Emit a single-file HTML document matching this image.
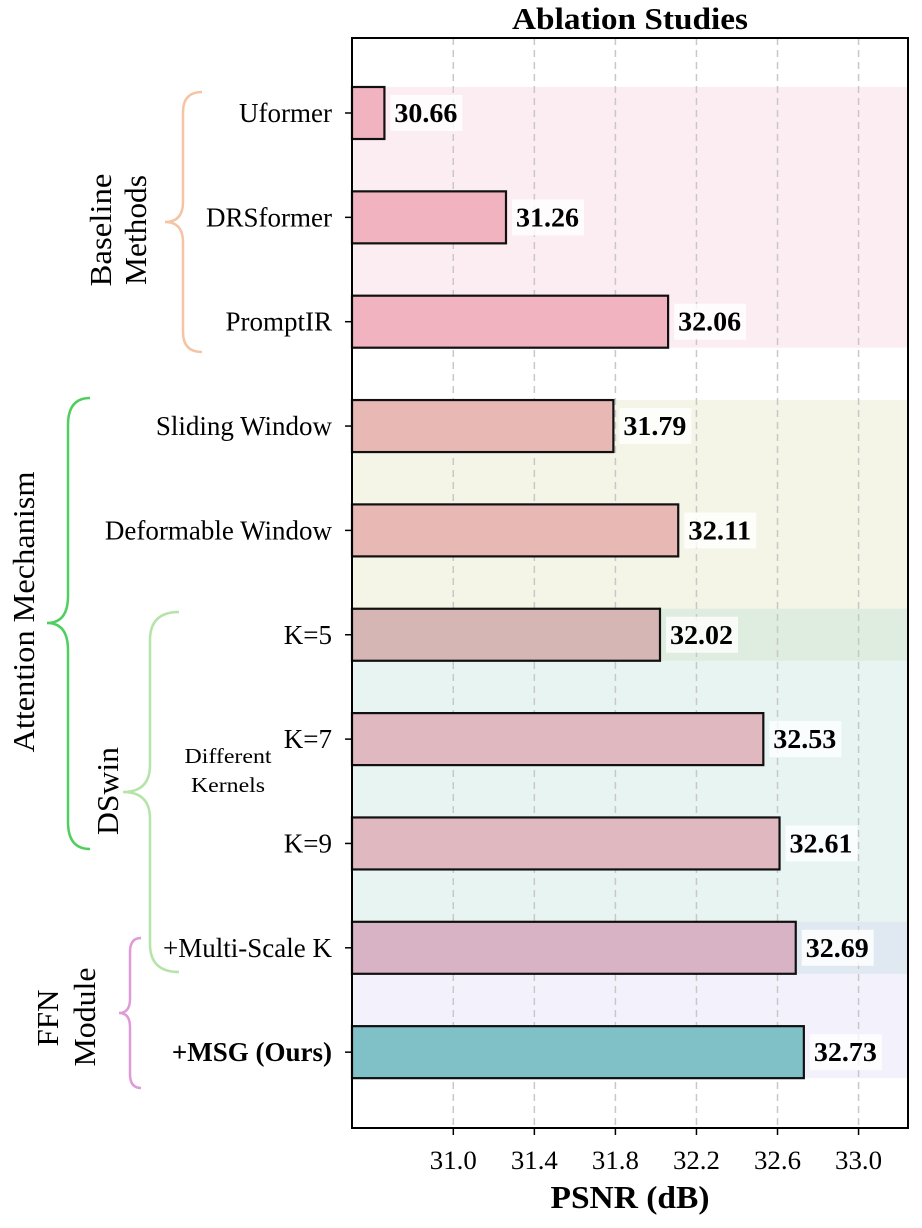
<!DOCTYPE html>
<html><head><meta charset="utf-8">
<style>
html,body{margin:0;padding:0;background:#fff;}
svg{display:block;font-family:"Liberation Serif","DejaVu Serif",serif;}
</style></head>
<body>
<svg id="chart" width="922" height="1228" viewBox="0 0 922 1228" xmlns="http://www.w3.org/2000/svg">
<g id="bands"></g>
<g id="grid"></g>
<g id="bars"></g>
<g id="labels"></g>
<rect x="352" y="38" width="556" height="1090" fill="none" stroke="#000" stroke-width="2"/>
<g id="xaxis"></g>
<g id="yaxis"></g>
<text x="630" y="29" text-anchor="middle" font-size="31" font-weight="bold" textLength="236" lengthAdjust="spacingAndGlyphs">Ablation Studies</text>
<text x="630" y="1208" text-anchor="middle" font-size="32" font-weight="bold" textLength="159" lengthAdjust="spacingAndGlyphs">PSNR (dB)</text>

<path d="M202,92 Q183,92 183,112 L183,202 Q183,222 165,222 Q183,222 183,242 L183,332 Q183,352 202,352" fill="none" stroke="#f5c4a5" stroke-width="2.5"/>
<text transform="translate(111,230) rotate(-90)" text-anchor="middle" font-size="31"><tspan x="0" dy="0" textLength="113" lengthAdjust="spacingAndGlyphs">Baseline</tspan><tspan x="0" dy="35" textLength="110" lengthAdjust="spacingAndGlyphs">Methods</tspan></text>

<path d="M90,398 Q68,398 68,425 L68,596 Q68,623 47,623 Q68,623 68,650 L68,822 Q68,849 90,849" fill="none" stroke="#4fcf5f" stroke-width="2.5"/>
<text transform="translate(34,612) rotate(-90)" text-anchor="middle" font-size="31" textLength="281" lengthAdjust="spacingAndGlyphs">Attention Mechanism</text>

<path d="M179,612 Q150,612 150,640 L150,765 Q150,792 123,792 Q150,792 150,819 L150,944 Q150,972 179,972" fill="none" stroke="#b5e3a8" stroke-width="2.5"/>
<text transform="translate(118,791) rotate(-90)" text-anchor="middle" font-size="31" textLength="88" lengthAdjust="spacingAndGlyphs">DSwin</text>
<text x="228" y="763" text-anchor="middle" font-size="21" textLength="87" lengthAdjust="spacingAndGlyphs">Different</text>
<text x="228" y="792" text-anchor="middle" font-size="21" textLength="74" lengthAdjust="spacingAndGlyphs">Kernels</text>

<path d="M141,938 Q130,938 130,952 L130,999 Q130,1013 119,1013 Q130,1013 130,1027 L130,1074 Q130,1088 141,1088" fill="none" stroke="#e09ad8" stroke-width="2.5"/>
<text transform="translate(58,1018) rotate(-90)" text-anchor="middle" font-size="31" textLength="57" lengthAdjust="spacingAndGlyphs">FFN</text>
<text transform="translate(95,1017) rotate(-90)" text-anchor="middle" font-size="31" textLength="99" lengthAdjust="spacingAndGlyphs">Module</text>

<script>
const categories = ["Uformer","DRSformer","PromptIR","Sliding Window","Deformable Window","K=5","K=7","K=9","+Multi-Scale K","+MSG (Ours)"];
const psnrValues = [30.66,31.26,32.06,31.79,32.11,32.02,32.53,32.61,32.69,32.73];
const barColors = ["#f2b3c1","#f2b3c1","#f2b3c1","#e8b8b5","#e8b8b5","#d6b6b4","#e0b8c0","#e0b8c0","#d7b3c5","#80c1c7"];
const tickValues = [31.0,31.4,31.8,32.2,32.6,33.0];
const tickLabels = ["31.0","31.4","31.8","32.2","32.6","33.0"];
const groupStart = [0,3,5,8];
const groupEnd = [2,5,8,9];
const groupColors = ["rgba(240,150,175,0.17)","rgba(215,215,170,0.28)","rgba(170,215,210,0.28)","rgba(200,195,240,0.22)"];

const NS="http://www.w3.org/2000/svg";
const xMin=30.5, xMax=33.244, L=352, R=908;
const x = v => L + (v-xMin)/(xMax-xMin)*(R-L);
const rowStep=104.35, row0=113;
const y = i => row0 + i*rowStep;
const barH=52;
function mk(tag, attrs, parent){const e=document.createElementNS(NS,tag);for(const k in attrs)e.setAttribute(k,attrs[k]);parent.appendChild(e);return e;}

const bands=document.getElementById('bands');
groupStart.forEach((s,gi)=>{
  const r=mk('rect',{x:L,y:y(s)-barH/2,width:R-L,height:y(groupEnd[gi])-y(s)+barH,fill:groupColors[gi]},bands);
  
  
});
const grid=document.getElementById('grid'), xa=document.getElementById('xaxis');
tickValues.forEach((t,i)=>{
  const g=mk('line',{x1:x(t),x2:x(t),y1:38,y2:1128,stroke:"#c8c8c8","stroke-width":1.5,"stroke-dasharray":"7,5"},grid);
  
  
  const tk=mk('line',{x1:x(t),x2:x(t),y1:1128,y2:1135,stroke:"#000","stroke-width":1.5},xa);
  
  
  const tl=mk('text',{x:x(t),y:1169,"text-anchor":"middle","font-size":26,textLength:47,lengthAdjust:"spacingAndGlyphs"},xa);
  tl.textContent=tickLabels[i];
  
  
});
const bars=document.getElementById('bars'), labels=document.getElementById('labels'), ya=document.getElementById('yaxis');
categories.forEach((c,i)=>{
  const b=mk('rect',{x:L,y:y(i)-barH/2,width:x(psnrValues[i])-L,height:barH,fill:barColors[i],stroke:"#111","stroke-width":2.2},bars);
  
  
  const bg=mk('rect',{x:x(psnrValues[i])+6,y:y(i)-18,width:72,height:36,fill:"rgba(255,255,255,0.8)"},labels);
  
  
  const v=mk('text',{x:x(psnrValues[i])+10,y:y(i)+9,"font-size":27,"font-weight":"bold",textLength:63,lengthAdjust:"spacingAndGlyphs"},labels);
  v.textContent=psnrValues[i].toFixed(2);
  
  
  const tk=mk('line',{x1:L-7,x2:L,y1:y(i),y2:y(i),stroke:"#000","stroke-width":1.5},ya);
  
  
  const t=mk('text',{x:L-20,y:y(i)+9,"text-anchor":"end","font-size":27},ya);
  if(i===9) t.setAttribute('font-weight','bold');
  t.textContent=c;
  
  
});
</script>
</svg>
</body></html>
